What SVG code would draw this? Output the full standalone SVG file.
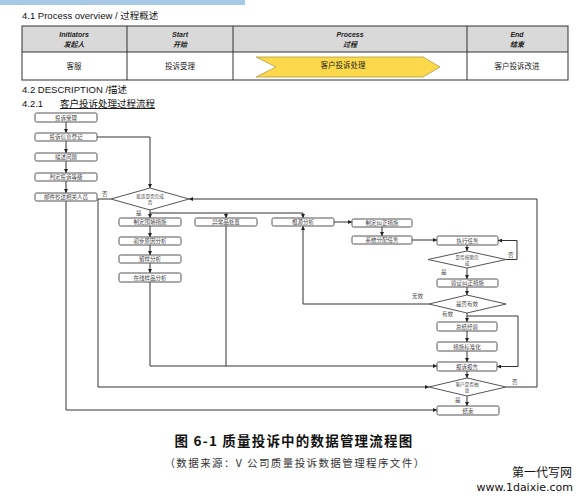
<svg xmlns="http://www.w3.org/2000/svg" width="583" height="501" viewBox="0 0 583 501">
<defs>
<marker id="ah" viewBox="0 0 6 6" refX="6" refY="3" markerWidth="4" markerHeight="4" orient="auto" markerUnits="userSpaceOnUse">
<path d="M0,0 L6,3 L0,6 z" fill="#222"/>
</marker>
<style>
.t{font-family:"Liberation Sans","Noto Sans CJK SC",sans-serif;fill:#222}
.h{font-family:"Liberation Sans","Noto Sans CJK SC",sans-serif;font-size:9.5px;fill:#111}
.th{font-family:"Liberation Sans","Noto Sans CJK SC",sans-serif;font-size:7px;font-weight:bold;font-style:italic;fill:#222;text-anchor:middle}
.tr{font-family:"Noto Sans CJK SC",sans-serif;font-size:7.5px;fill:#222;text-anchor:middle}
.b rect{fill:#fff;stroke:#555;stroke-width:1}
.b text,.d text{font-family:"Noto Sans CJK SC",sans-serif;font-size:5.5px;fill:#444;text-anchor:middle}
.d text.s{font-size:4.6px}
.d polygon{fill:#fff;stroke:#555;stroke-width:1}
.lb{font-family:"Noto Sans CJK SC",sans-serif;font-size:5.5px;fill:#444}
.c path{fill:none;stroke:#333;stroke-width:1}
.c path.a{marker-end:url(#ah)}
</style>
</defs>
<rect x="0" y="0" width="245" height="5" fill="#a8c8e8"/>
<text class="h" x="22" y="19">4.1 Process overview / 过程概述</text>
<g id="table">
<rect x="22" y="26" width="546" height="26" fill="#d9d9d9"/>
<rect x="22" y="26" width="546" height="54" fill="none" stroke="#333" stroke-width="1"/>
<line x1="22" y1="52" x2="568" y2="52" stroke="#333"/>
<line x1="127" y1="26" x2="127" y2="80" stroke="#333"/>
<line x1="233" y1="26" x2="233" y2="80" stroke="#333"/>
<line x1="467" y1="26" x2="467" y2="80" stroke="#333"/>
<text class="th" x="74" y="37">Initiators</text>
<text class="th" x="74" y="47">发起人</text>
<text class="th" x="180" y="37">Start</text>
<text class="th" x="180" y="47">开始</text>
<text class="th" x="350" y="37">Process</text>
<text class="th" x="350" y="47">过程</text>
<text class="th" x="517" y="37">End</text>
<text class="th" x="517" y="47">结束</text>
<text class="tr" x="74" y="69">客服</text>
<text class="tr" x="180" y="69">投诉受理</text>
<polygon points="256,57 423,57 440,67 423,77 256,77 276,67" fill="#fcd94a" stroke="#b39a3a" stroke-width="0.8"/>
<text class="tr" x="343" y="68">客户投诉处理</text>
<text class="tr" x="517" y="69">客户投诉改进</text>
</g>
<text class="h" x="22" y="93">4.2 DESCRIPTION /描述</text>
<text class="h" x="22" y="107">4.2.1</text>
<text class="h" x="60" y="107" text-decoration="underline">客户投诉处理过程流程</text>
<g class="c" id="connectors">
<path class="a" d="M66,122 V133"/>
<path class="a" d="M66,141 V153"/>
<path class="a" d="M66,161 V173"/>
<path class="a" d="M66,181 V193"/>
<path class="a" d="M97,137 H150 V188"/>
<path class="a" d="M111,199 H98 V387 H429"/>
<path class="a" d="M506,387 H537 V199 H189"/>
<path class="a" d="M150,210 V218"/>
<path d="M150,213 H303"/>
<path class="a" d="M226,213 V218"/>
<path class="a" d="M303,213 V218"/>
<path class="a" d="M150,226 V237"/>
<path class="a" d="M150,245 V255"/>
<path class="a" d="M150,263 V273"/>
<path class="a" d="M150,282 V366 H437"/>
<path d="M226,226 V366"/>
<path class="a" d="M429,304 H303 V226"/>
<path class="a" d="M334,222 H352"/>
<path class="a" d="M382,227 V236"/>
<path class="a" d="M412,240 H437"/>
<path class="a" d="M467,245 V251"/>
<path class="a" d="M506,259.5 H517 V240.5 H498"/>
<path class="a" d="M467,268 V279"/>
<path class="a" d="M467,287 V295"/>
<path class="a" d="M467,313 V322"/>
<path class="a" d="M467,316 H518 V366.5 H497"/>
<path class="a" d="M467,331 V342"/>
<path class="a" d="M467,351 V362"/>
<path class="a" d="M467,371 V378"/>
<path class="a" d="M467,396 V406"/>
<path class="a" d="M66,201 V410 H437"/>
</g>
<g class="b" id="n1"><rect x="35" y="113" width="62" height="9" rx="1.5"/><text x="66" y="119.5">投诉受理</text></g>
<g class="b" id="n2"><rect x="35" y="133" width="62" height="8" rx="1.5"/><text x="66" y="139">投诉信息登记</text></g>
<g class="b" id="n3"><rect x="35" y="153" width="62" height="8" rx="1.5"/><text x="66" y="159">描述问题</text></g>
<g class="b" id="n4"><rect x="35" y="173" width="62" height="8" rx="1.5"/><text x="66" y="179">判定投诉等级</text></g>
<g class="b" id="n5"><rect x="35" y="193" width="62" height="8" rx="1.5"/><text x="66" y="199">邮件抄送相关人员</text></g>
<g class="d" id="d1"><polygon points="150,188 189,199 150,210 111,199"/><text class="s" x="150" y="198">投诉是否完成</text><text class="s" x="150" y="204">否</text></g>
<g class="b" id="n6"><rect x="119" y="218" width="62" height="8" rx="1.5"/><text x="150" y="224">制定围堵措施</text></g>
<g class="b" id="n7"><rect x="119" y="237" width="62" height="8" rx="1.5"/><text x="150" y="243">初步原因分析</text></g>
<g class="b" id="n8"><rect x="119" y="255" width="62" height="8" rx="1.5"/><text x="150" y="261">留样分析</text></g>
<g class="b" id="n9"><rect x="119" y="273" width="62" height="9" rx="1.5"/><text x="150" y="279.5">在线样品分析</text></g>
<g class="b" id="n10"><rect x="195" y="218" width="62" height="8" rx="1.5"/><text x="226" y="224">异常品处置</text></g>
<g class="b" id="n11"><rect x="272" y="218" width="62" height="8" rx="1.5"/><text x="303" y="224">根源分析</text></g>
<g class="b" id="n12"><rect x="352" y="219" width="60" height="8" rx="1.5"/><text x="382" y="225">制定纠正措施</text></g>
<g class="b" id="n13"><rect x="352" y="236" width="60" height="8" rx="1.5"/><text x="382" y="242">系统分配任务</text></g>
<g class="b" id="n14"><rect x="437" y="236" width="61" height="9" rx="1.5"/><text x="467.5" y="242.5">执行任务</text></g>
<g class="d" id="d2"><polygon points="467,251 506,259.5 467,268 428,259.5"/><text class="s" x="467" y="258.5">是否按期完</text><text class="s" x="467" y="264.5">成</text></g>
<g class="b" id="n15"><rect x="437" y="279" width="61" height="8" rx="1.5"/><text x="467.5" y="285">验证纠正措施</text></g>
<g class="d" id="d3"><polygon points="467,295 506,304 467,313 429,304"/><text x="467" y="306">是否有效</text></g>
<g class="b" id="n16"><rect x="437" y="322" width="60" height="9" rx="1.5"/><text x="467" y="328.5">总结经验</text></g>
<g class="b" id="n17"><rect x="437" y="342" width="60" height="9" rx="1.5"/><text x="467" y="348.5">措施标准化</text></g>
<g class="b" id="n18"><rect x="437" y="362" width="60" height="9" rx="1.5"/><text x="467" y="368.5">报诉报告</text></g>
<g class="d" id="d4"><polygon points="467,378 506,387 467,396 429,387"/><text class="s" x="467" y="386">客户是否抽</text><text class="s" x="467" y="392">查</text></g>
<g class="b" id="n19"><rect x="437" y="406" width="62" height="9" rx="1.5"/><text x="468" y="412.5">结束</text></g>
<text class="lb" x="102" y="196">否</text>
<text class="lb" x="136" y="215">是</text>
<text class="lb" x="508" y="257">否</text>
<text class="lb" x="441" y="274">是</text>
<text class="lb" x="412" y="298">无效</text>
<text class="lb" x="442" y="316">有效</text>
<text class="lb" x="512" y="384">否</text>
<text class="lb" x="455" y="402">是</text>
<text x="294" y="446" text-anchor="middle" style="font-family:'Noto Sans CJK SC',sans-serif;font-size:13.5px;font-weight:bold;letter-spacing:1.2px;fill:#111">图 6-1 质量投诉中的数据管理流程图</text>
<text x="295" y="467" text-anchor="middle" style="font-family:'Noto Sans CJK SC',sans-serif;font-size:10.5px;letter-spacing:1.4px;fill:#333">（数据来源：V 公司质量投诉数据管理程序文件）</text>
<text x="572" y="477" text-anchor="end" style="font-family:'Noto Sans CJK SC',sans-serif;font-size:12px;fill:#111">第一代写网</text>
<text x="573" y="491" text-anchor="end" style="font-family:'DejaVu Sans',sans-serif;font-size:11px;fill:#111">www.1daixie.com</text>
</svg>
